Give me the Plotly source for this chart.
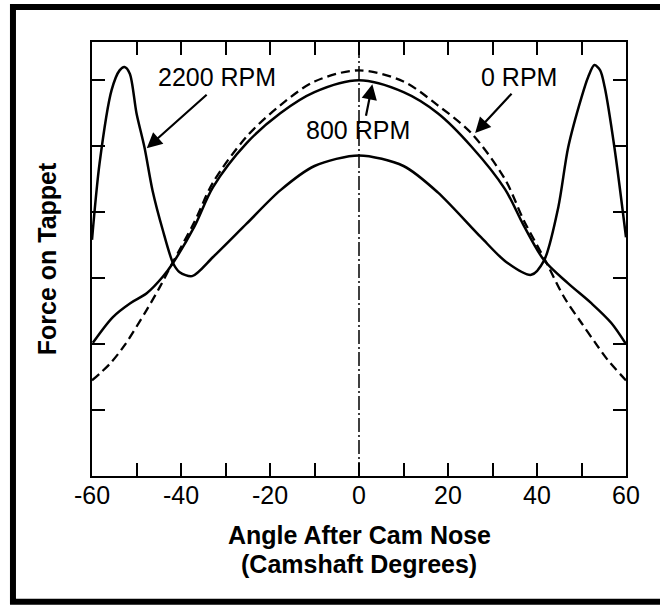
import plotly.graph_objects as go

# ---- data ----
ang_0rpm = [-60, -56, -52.7, -47.7, -44.8, -42, -37, -32.8, -25.2, -17.7, -10, 0,
            10, 17.7, 25.2, 32.8, 37, 42, 46.1, 50, 53.3, 56, 60]
force_0rpm = [1.45, 1.7, 1.98, 2.52, 2.86, 3.22, 3.85, 4.45, 5.15, 5.62, 5.98, 6.15,
              5.98, 5.62, 5.2, 4.5, 3.88, 3.25, 2.71, 2.32, 2.0, 1.75, 1.45]

ang_800 = [-59.8, -55.3, -51.4, -47.7, -44.1, -41.8, -37, -32.8, -25.2, -17.7, -10, 0,
           10, 17.7, 25.2, 32.8, 37, 41.6, 47, 52.2, 56.7, 60]
force_800 = [2.02, 2.41, 2.62, 2.77, 3.02, 3.23, 3.78, 4.38, 5.05, 5.5, 5.82, 6.0,
             5.82, 5.5, 5.0, 4.35, 3.8, 3.27, 2.92, 2.62, 2.32, 2.0]

ang_2200 = [-60, -58.3, -55.6, -53.8, -52.7, -51.5, -50, -48.2, -46.4, -44.1, -41.8,
            -40.3, -37.5, -32.8, -25.2, -17.7, -10, 0, 10, 17.7, 27.4, 33, 38.7,
            41.6, 44.8, 47, 50, 51.5, 52.9, 54.2, 55.2, 57.4, 60]
force_2200 = [3.58, 4.74, 5.85, 6.15, 6.2, 6.1, 5.5, 4.98, 4.33, 3.73, 3.23,
              3.09, 3.03, 3.32, 3.83, 4.33, 4.7, 4.86, 4.7, 4.3, 3.62, 3.25, 3.05,
              3.27, 4.08, 4.98, 5.74, 6.05, 6.23, 6.15, 5.9, 4.98, 3.62]

x_tickvals = [-60, -50, -40, -30, -20, -10, 0, 10, 20, 30, 40, 50, 60]
x_ticktext = ["-60", "", "-40", "", "-20", "", "0", "", "20", "", "40", "", "60"]
y_tickvals = [1, 2, 3, 4, 5, 6]

labels = ["2200 RPM", "0 RPM", "800 RPM"]
label_pos = [(-31.9, 6.05), (36.0, 6.05), (-0.3, 5.24)]
arrow_tail = [(-33.9, 5.8), (34.6, 5.82), (1.5, 5.44)]
arrow_head = [(-47.7, 4.97), (26.1, 5.2), (3.0, 5.94)]

x_title_lines = ["Angle After Cam Nose", "(Camshaft Degrees)"]
y_title = "Force on Tappet"

FONT = "Liberation Sans, Arial, sans-serif"

fig = go.Figure()
fig.add_trace(go.Scatter(x=ang_0rpm, y=force_0rpm, mode="lines",
                         line=dict(color="black", width=2.3, dash="9px,5px",
                                   shape="spline", smoothing=0.9)))
fig.add_trace(go.Scatter(x=ang_800, y=force_800, mode="lines",
                         line=dict(color="black", width=2.5, shape="spline", smoothing=0.9)))
fig.add_trace(go.Scatter(x=ang_2200, y=force_2200, mode="lines",
                         line=dict(color="black", width=2.5, shape="spline", smoothing=0.8)))
# center line at 0 degrees
fig.add_trace(go.Scatter(x=[0, 0], y=[0, 6.58], mode="lines",
                         line=dict(color="black", width=1.5, dash="14px,3px,2px,3px")))

for txt, (lx, ly) in zip(labels, label_pos):
    fig.add_annotation(x=lx, y=ly, text=txt, showarrow=False,
                       font=dict(family=FONT, size=25, color="black"))
for (tx, ty), (hx, hy) in zip(arrow_tail, arrow_head):
    fig.add_annotation(x=hx, y=hy, ax=tx, ay=ty, axref="x", ayref="y", text="",
                       showarrow=True, arrowhead=2, arrowsize=1.4, arrowwidth=2.2,
                       arrowcolor="black")

# x-axis title, two lines
for txt, yp in zip(x_title_lines, [-0.136, -0.203]):
    fig.add_annotation(x=0.5, y=yp, xref="paper", yref="paper", text="<b>%s</b>" % txt,
                       showarrow=False, yanchor="middle",
                       font=dict(family=FONT, size=25, color="black"))

# outer frame (right side cropped off in the reference)
fig.add_shape(type="rect", xref="paper", yref="paper",
              x0=-0.148, x1=1.2, y0=-0.29, y1=1.0806,
              line=dict(color="black", width=6))

fig.update_xaxes(range=[-60, 60], tickvals=x_tickvals, ticktext=x_ticktext,
                 ticks="inside", ticklen=13, tickwidth=1.5, tickcolor="black",
                 showline=True, linecolor="black", linewidth=1.5, mirror="ticks",
                 showgrid=False, zeroline=False, ticklabelstandoff=-4,
                 tickfont=dict(family=FONT, size=25, color="black"))
fig.update_yaxes(range=[0, 6.58], tickvals=y_tickvals, showticklabels=False,
                 ticks="inside", ticklen=13, tickwidth=1.5, tickcolor="black",
                 showline=True, linecolor="black", linewidth=1.5, mirror="ticks",
                 showgrid=False, zeroline=False,
                 title=dict(text="<b>%s</b>" % y_title,
                            font=dict(family=FONT, size=25, color="black"), standoff=27))

fig.update_layout(width=660, height=605, showlegend=False,
                  margin=dict(l=92, r=34, t=42, b=129),
                  paper_bgcolor="white", plot_bgcolor="white",
                  font=dict(family=FONT, color="black"))

fig.write_html("out.html")
